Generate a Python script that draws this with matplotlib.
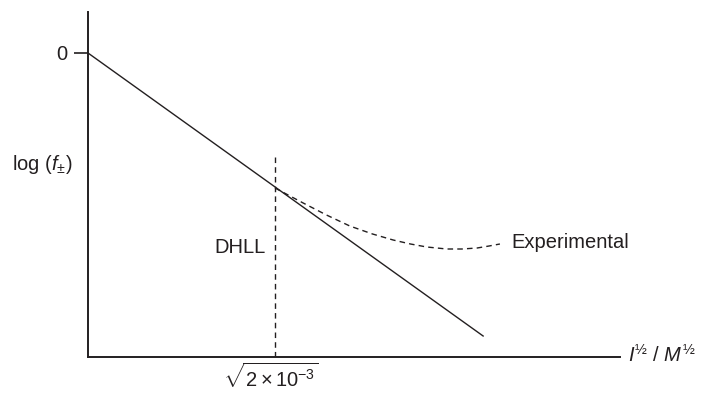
import matplotlib
matplotlib.use("Agg")
import matplotlib.pyplot as plt

plt.rcParams['font.family'] = ['Liberation Sans', 'DejaVu Sans']
plt.rcParams['mathtext.fontset'] = 'custom'
plt.rcParams['mathtext.rm'] = 'Liberation Sans'
plt.rcParams['mathtext.it'] = 'Liberation Sans:italic'
plt.rcParams['mathtext.sf'] = 'Liberation Sans'
plt.rcParams['text.color'] = '#231f20'

# DHLL straight line (limiting law)
dhll_x = [0.0, 0.729]
dhll_y = [0.0, -2.83]

# Experimental curve (dashed)
exp_x = [0.345, 0.397, 0.440, 0.483, 0.525, 0.563, 0.595, 0.625, 0.662, 0.690, 0.718, 0.740, 0.760]
exp_y = [-1.35, -1.50, -1.62, -1.73, -1.81, -1.87, -1.91, -1.94, -1.96, -1.96, -1.95, -1.93, -1.91]

# vertical marker
x_mark = 0.345
y_mark_top = -1.02

FS = 14.5
C = '#231f20'

fig = plt.figure(figsize=(7.01, 3.99), dpi=100)
ax = fig.add_axes([88/701, 42/399, 542/701, 345/399])
ax.set_xlim(0, 1.0)
ax.set_ylim(-3.04, 0.41)

ax.plot(dhll_x, dhll_y, color=C, lw=1.0)
ax.plot(exp_x, exp_y, color=C, lw=1.0, ls=(0, (4, 3)))
ax.plot([x_mark, x_mark], [-3.04, y_mark_top], color=C, lw=1.0, ls=(0, (4, 3)))

for s in ['top', 'right']:
    ax.spines[s].set_visible(False)
for s in ['left', 'bottom']:
    ax.spines[s].set_linewidth(1.4)
    ax.spines[s].set_color(C)
ax.spines['bottom'].set_bounds(0, 0.982)

ax.set_xticks([])
ax.set_yticks([0])
ax.set_yticklabels(['0'])
ax.tick_params(axis='y', length=10, width=1.2, labelsize=FS, pad=5, color=C, labelcolor=C)

ax.text(-0.085, -1.12, r'log ($f_{\pm}$)', ha='center', va='center', fontsize=FS, clip_on=False)
ax.text(0.328, -1.95, 'DHLL', ha='right', va='center', fontsize=FS)
ax.text(0.782, -1.90, 'Experimental', ha='left', va='center', fontsize=FS)
ax.text(0.996, -3.02, r'$I^{½}$ / $M^{½}$', ha='left', va='center', fontsize=FS, clip_on=False)
ax.text(x_mark - 0.008, -3.10, r'$\sqrt{2\times10^{-3}}$', ha='center', va='top', fontsize=FS, clip_on=False)

fig.savefig('out.png', dpi=100)
